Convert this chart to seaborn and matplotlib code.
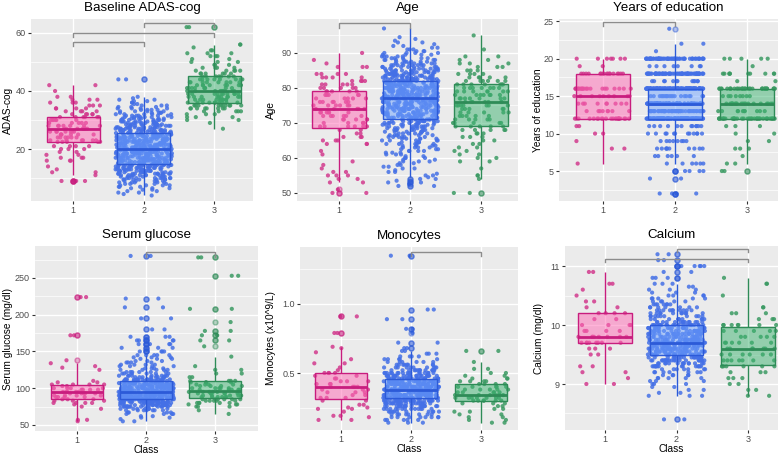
import numpy as np
import pandas as pd
import matplotlib
matplotlib.use("Agg")
import matplotlib.pyplot as plt
import seaborn as sns
from matplotlib.colors import to_rgba
from matplotlib.ticker import FixedLocator

classes = ["1", "2", "3"]

adas_1 = [(9, 4), (11, 1), (12, 2), (13, 1), (14, 1), (16, 3), (17, 3), (18, 2), (19, 2), (20, 3), (21, 4),
          (22.5, 5), (23, 6), (24, 6), (25, 6), (26, 7), (27, 8), (28, 7), (29, 6), (30, 6), (31, 6), (32, 5),
          (33, 4), (34, 4), (35, 3), (36, 3), (37, 3), (38, 2), (40, 1), (42, 2)]
adas_2 = [(4, 1), (4.5, 1), (5, 2), (5.5, 2), (6, 2), (6.5, 3), (7, 3), (7.5, 4), (8, 4), (8.5, 5), (9, 5),
          (9.5, 7), (10, 8), (10.5, 8), (11, 9), (11.5, 10), (12, 10), (12.5, 11), (13, 11), (13.5, 12),
          (14, 12), (14.5, 12), (15, 13), (15.5, 13), (16, 13), (16.5, 14), (17, 14), (17.5, 14), (18, 15),
          (18.5, 14), (19, 15), (19.5, 14), (20, 15), (20.5, 14), (21, 15), (21.5, 14), (22, 14), (22.5, 14),
          (23, 14), (23.5, 13), (24, 13), (24.5, 13), (25, 12), (25.5, 12), (26, 11), (26.5, 11), (27, 10),
          (27.5, 10), (28, 9), (28.5, 9), (29, 8), (29.5, 8), (30, 7), (30.5, 7), (31, 6), (31.5, 6), (32, 5),
          (32.5, 5), (33, 4), (33.5, 4), (34, 4), (34.5, 3), (35, 3), (35.5, 2), (36, 2), (36.5, 2), (37, 2),
          (37.5, 1), (38, 1), (44, 2)]
adas_3 = [(27, 1), (29, 1), (30, 2), (31, 3), (32, 3), (33, 5), (34, 8), (35, 10), (36, 10), (37, 10), (38, 10),
          (39, 10), (40, 10), (41, 9), (42, 9), (43, 8), (44, 8), (45, 7), (46, 6), (47, 5), (48, 4), (49, 3),
          (50, 3), (51, 2), (52, 3), (53, 3), (54, 2), (55, 1), (56, 2), (62, 2)]

age_1 = [(50, 2), (51, 1), (53, 2), (54, 2), (55, 3), (56, 2), (57, 1), (58, 1), (59, 1), (61, 1), (62, 1),
         (64, 3), (65, 3), (66, 3), (67, 2), (68, 2), (69, 6), (70, 5), (71, 5), (72, 6), (73, 6), (74, 6),
         (75, 6), (76, 6), (77, 5), (78, 5), (79, 5), (80, 5), (81, 5), (82, 4), (83, 4), (84, 4), (86, 3),
         (87, 1), (88, 1), (90, 1)]
age_2 = [(52, 2), (52.5, 1), (53, 2), (53.5, 1), (54, 2), (54.5, 1), (55, 2), (55.5, 1), (56, 2), (56.5, 1),
         (57, 2), (57.5, 2), (58, 2), (58.5, 2), (59, 3), (59.5, 2), (60, 3), (60.5, 2), (61, 3), (61.5, 3),
         (62, 4), (62.5, 3), (63, 4), (63.5, 4), (64, 5), (64.5, 4), (65, 5), (65.5, 5), (66, 6), (66.5, 5),
         (67, 6), (67.5, 6), (68, 7), (68.5, 7), (69, 8), (69.5, 8), (70, 9), (70.5, 9), (71, 10), (71.5, 10),
         (72, 11), (72.5, 11), (73, 13), (73.5, 13), (74, 14), (74.5, 13), (75, 14), (75.5, 14), (76, 15),
         (76.5, 14), (77, 15), (77.5, 15), (78, 15), (78.5, 15), (79, 15), (79.5, 15), (80, 15), (80.5, 14),
         (81, 14), (81.5, 14), (82, 13), (82.5, 13), (83, 12), (83.5, 12), (84, 11), (84.5, 11), (85, 10),
         (85.5, 9), (86, 8), (86.5, 8), (87, 7), (87.5, 6), (88, 6), (88.5, 5), (89, 5), (89.5, 4), (90, 4),
         (90.5, 3), (91, 3), (91.5, 2), (92, 2), (92.5, 1), (93, 2), (93.5, 1), (94, 1), (94.5, 1), (97, 1)]
age_3 = [(50, 2), (54, 1), (55, 2), (57, 1), (59, 2), (60, 2), (61, 2), (62, 2), (63, 2), (64, 2), (65, 2),
         (66, 3), (67, 3), (68, 5), (69, 5), (70, 5), (71, 5), (72, 5), (73, 5), (74, 5), (75, 7), (76, 7),
         (77, 7), (78, 7), (79, 7), (80, 7), (81, 7), (82, 6), (83, 5), (84, 4), (85, 3), (86, 3), (87, 3),
         (88, 2), (89, 2), (91, 1), (95, 1)]

edu_1 = [(6, 1), (8, 2), (9, 1), (10, 2), (11, 2), (12, 22), (13, 8), (14, 9), (15, 9), (16, 19), (18, 17),
         (19, 2), (20, 7)]
edu_2 = [(2, 4), (4, 2), (5, 4), (6, 6), (7, 6), (8, 10), (9, 8), (10, 12), (11, 12), (12, 140), (13, 50),
         (14, 80), (15, 20), (16, 150), (17, 12), (18, 70), (19, 8), (20, 60), (21, 1), (22, 2), (24, 1)]
edu_3 = [(5, 2), (6, 2), (7, 1), (8, 3), (9, 2), (10, 2), (11, 3), (12, 38), (13, 10), (14, 20), (15, 8),
         (16, 35), (17, 2), (18, 10), (19, 1), (20, 5)]

glu_1 = [(55, 1), (57, 2), (72, 1), (75, 1), (78, 1), (80, 4), (83, 3), (85, 3), (88, 4), (90, 4), (93, 5),
         (95, 5), (98, 4), (100, 4), (103, 2), (105, 4), (108, 2), (110, 1), (125, 1), (128, 1), (130, 1),
         (134, 1), (138, 1), (172, 2), (224, 2)]
glu_2 = [(55, 2), (58, 1), (60, 2), (62, 2), (65, 4), (67, 4), (70, 7), (72, 8), (75, 14), (77, 16), (80, 22),
         (82, 23), (85, 27), (87, 28), (90, 30), (92, 30), (95, 28), (97, 27), (100, 25), (102, 23), (105, 20),
         (107, 20), (110, 15), (112, 15), (115, 9), (117, 9), (120, 6), (122, 6), (125, 5), (127, 4), (130, 4),
         (132, 4), (135, 4), (137, 3), (140, 3), (142, 3), (145, 5), (150, 4), (155, 3), (160, 4), (165, 4),
         (170, 3), (180, 2), (195, 2), (210, 2), (222, 2), (280, 2)]
glu_3 = [(65, 1), (70, 1), (75, 3), (78, 3), (80, 5), (83, 5), (85, 6), (88, 6), (90, 6), (93, 6), (95, 6),
         (98, 5), (100, 5), (103, 4), (105, 4), (108, 4), (110, 4), (115, 2), (120, 2), (125, 2), (130, 1),
         (143, 1), (157, 1), (165, 2), (172, 2), (178, 2), (190, 1), (208, 2), (253, 2), (278, 2)]

mono_1 = [(0.16, 2), (0.18, 1), (0.19, 2), (0.22, 1), (0.24, 2), (0.25, 2), (0.27, 2), (0.30, 2), (0.32, 3),
          (0.34, 2), (0.36, 3), (0.38, 3), (0.40, 4), (0.42, 3), (0.44, 3), (0.46, 2), (0.48, 2), (0.50, 4),
          (0.52, 1), (0.54, 1), (0.57, 2), (0.60, 1), (0.65, 1), (0.68, 1), (0.69, 1), (0.79, 2), (0.91, 2)]
mono_2 = [(0.14, 3), (0.16, 5), (0.18, 8), (0.20, 8), (0.22, 10), (0.24, 13), (0.26, 17), (0.28, 21),
          (0.30, 28), (0.32, 30), (0.34, 32), (0.36, 33), (0.38, 34), (0.40, 33), (0.42, 31), (0.44, 29),
          (0.46, 26), (0.48, 22), (0.50, 17), (0.52, 13), (0.54, 10), (0.56, 8), (0.58, 6), (0.60, 5),
          (0.62, 4), (0.64, 3), (0.66, 2), (0.68, 2), (0.72, 2), (0.79, 1), (0.82, 2), (0.89, 2), (0.96, 2),
          (1.35, 2)]
mono_3 = [(0.14, 2), (0.16, 2), (0.18, 2), (0.20, 2), (0.22, 2), (0.24, 2), (0.26, 2), (0.28, 3), (0.30, 6),
          (0.32, 7), (0.34, 7), (0.36, 5), (0.38, 5), (0.40, 5), (0.42, 4), (0.44, 4), (0.46, 3), (0.48, 2),
          (0.50, 2), (0.53, 2), (0.58, 1), (0.66, 2)]

ca_1 = [(9.0, 2), (9.1, 1), (9.2, 2), (9.3, 2), (9.5, 2), (9.6, 3), (9.7, 8), (9.8, 8), (9.9, 4), (10.0, 4),
        (10.1, 2), (10.2, 4), (10.3, 2), (10.4, 2), (10.5, 1), (10.6, 1), (10.7, 2), (10.9, 2)]
ca_2 = [(8.40, 2), (8.80, 3), (8.85, 2), (8.90, 2), (8.95, 2), (9.00, 3), (9.05, 3), (9.10, 5), (9.15, 5),
        (9.20, 7), (9.25, 7), (9.30, 14), (9.35, 14), (9.40, 21), (9.45, 21), (9.50, 24), (9.55, 23),
        (9.60, 27), (9.65, 27), (9.70, 30), (9.75, 25), (9.80, 19), (9.85, 21), (9.90, 20), (9.95, 20),
        (10.00, 20), (10.05, 14), (10.10, 10), (10.15, 10), (10.20, 10), (10.25, 10), (10.30, 7), (10.35, 7),
        (10.40, 5), (10.45, 5), (10.50, 4), (10.55, 3), (10.60, 3), (10.65, 2), (10.70, 3), (10.80, 3),
        (10.90, 2), (11.00, 5), (11.10, 2), (11.20, 2)]
ca_3 = [(8.8, 2), (8.9, 2), (9.0, 2), (9.1, 3), (9.2, 3), (9.3, 7), (9.4, 7), (9.5, 6), (9.6, 7), (9.7, 6),
        (9.8, 5), (9.9, 5), (10.0, 7), (10.1, 3), (10.2, 3), (10.3, 2), (10.5, 1), (10.7, 2), (10.8, 1)]

# significance brackets: (class a, class b, bar height, end of the drop)
adas_pairs = [(1, 2, 57.0, 55.5), (1, 3, 60.0, 58.6), (2, 3, 63.4, 61.9)]
age_pairs = [(1, 2, 98.6, 97.0)]
edu_pairs = [(1, 2, 24.9, 24.3)]
glu_pairs = [(2, 3, 285, 279)]
mono_pairs = [(2, 3, 1.377, 1.35)]
ca_pairs = [(2, 3, 11.29, 11.24), (1, 3, 11.12, 11.07)]

pt_colors = ["#D2398D", "#4470E6", "#3B9A63"]
line_colors = ["#C81D7E", "#2C5AD8", "#2E8B57"]
fill_colors = ["#FF69B4", "#6FA3FF", "#3CB371"]
fill_alpha = [0.5, 0.5, 0.5]

plt.rcParams["font.family"] = ["Liberation Sans", "DejaVu Sans"]
np.random.seed(3)

W, H = 778, 455
fig = plt.figure(figsize=(W / 100, H / 100), dpi=100)


def expand(pairs):
    v, n = zip(*pairs)
    return np.repeat(np.array(v, dtype=float), n)


def panel(box_px, groups, title, ylabel, xlim, ylim, yticks, ylabels, minors, pairs, ylab_x, bottom_row):
    l, t, r, b = box_px
    ax = fig.add_axes([l / W, 1 - b / H, (r - l) / W, (b - t) / H])
    df = pd.concat([pd.DataFrame({"Class": c, "val": expand(g)}) for c, g in zip(classes, groups)],
                   ignore_index=True)
    sns.stripplot(data=df, x="Class", y="val", hue="Class", order=classes, hue_order=classes,
                  palette=pt_colors, jitter=0.4, size=3.0, alpha=0.85, linewidth=0, legend=False,
                  zorder=1, ax=ax)
    for i, c in enumerate(classes):
        sub = df[df["Class"] == c]
        lc = line_colors[i]
        sns.boxplot(data=sub, x="Class", y="val", order=classes, width=0.75, whis=1.5, saturation=1,
                    color=fill_colors[i], linecolor=lc, linewidth=1.0, showcaps=False, fliersize=3.6,
                    boxprops={"facecolor": to_rgba(fill_colors[i], fill_alpha[i]), "edgecolor": lc,
                              "zorder": 3},
                    medianprops={"color": lc, "linewidth": 2.0, "zorder": 4},
                    whiskerprops={"color": lc, "linewidth": 1.0, "zorder": 4},
                    flierprops={"marker": "o", "markerfacecolor": to_rgba(lc, 0.35),
                                "markeredgecolor": to_rgba(lc, 0.45), "markersize": 3.6, "zorder": 4},
                    ax=ax)
    for a, bb, yb, yd in pairs:
        ax.plot([a - 1, a - 1, bb - 1, bb - 1], [yd, yb, yb, yd], color="#8C8C8C", lw=1.0,
                solid_joinstyle="miter", clip_on=False, zorder=5)

    ax.set_xlim(*xlim)
    ax.set_ylim(*ylim)
    ax.set_yticks(yticks)
    ax.set_yticklabels(ylabels)
    ax.yaxis.set_minor_locator(FixedLocator(minors))
    ax.set_facecolor("#EBEBEB")
    ax.set_axisbelow(True)
    ax.grid(True, which="major", color="white", lw=1.0)
    ax.grid(True, which="minor", axis="y", color="white", lw=0.5)
    for s in ax.spines.values():
        s.set_visible(False)
    ax.tick_params(which="major", length=2.2, width=0.8, color="#333333", labelsize=6.5,
                   labelcolor="#4D4D4D", pad=1.5)
    ax.tick_params(which="minor", length=0)
    ax.set_title(title, fontsize=9.6, pad=5.8, color="black")
    ax.set_ylabel(ylabel, fontsize=7.3)
    ax.yaxis.set_label_coords(ylab_x, 0.5)
    if bottom_row:
        ax.set_xlabel("Class", fontsize=7.3)
        ax.xaxis.set_label_coords(0.5, -0.075)
    else:
        ax.set_xlabel("")
    return ax


panel((31, 19, 253, 201), [adas_1, adas_2, adas_3], "Baseline ADAS-cog", "ADAS-cog",
      (-0.6, 2.55), (2.1, 64.8), [20, 40, 60], ["20", "40", "60"], [10, 30, 50], adas_pairs, -0.081, False)
panel((297, 19, 518, 201), [age_1, age_2, age_3], "Age", "Age",
      (-0.59, 2.52), (47.7, 99.7), [50, 60, 70, 80, 90], ["50", "60", "70", "80", "90"],
      [55, 65, 75, 85, 95], age_pairs, -0.095, False)
panel((559, 19, 778, 201), [edu_1, edu_2, edu_3], "Years of education", "Years of education",
      (-0.61, 2.43), (1.0, 25.3), [5, 10, 15, 20, 25], ["5", "10", "15", "20", "25"],
      [2.5, 7.5, 12.5, 17.5, 22.5], edu_pairs, -0.073, False)
panel((35, 246, 258, 431), [glu_1, glu_2, glu_3], "Serum glucose", "Serum glucose (mg/dl)",
      (-0.61, 2.62), (41.8, 293.5), [50, 100, 150, 200, 250], ["50", "100", "150", "200", "250"],
      [75, 125, 175, 225, 275], glu_pairs, -0.099, True)
panel((300, 247, 518, 430), [mono_1, mono_2, mono_3], "Monocytes", "Monocytes (x10^9/L)",
      (-0.59, 2.53), (0.087, 1.413), [0.5, 1.0], ["0.5", "1.0"], [0.25, 0.75, 1.25], mono_pairs, -0.110, True)
panel((565, 246, 778, 430), [ca_1, ca_2, ca_3], "Calcium", "Calcium (mg/dl)",
      (-0.56, 2.42), (8.22, 11.34), [9, 10, 11], ["9", "10", "11"], [8.5, 9.5, 10.5], ca_pairs, -0.099, True)

fig.savefig("out.png", dpi=100)
